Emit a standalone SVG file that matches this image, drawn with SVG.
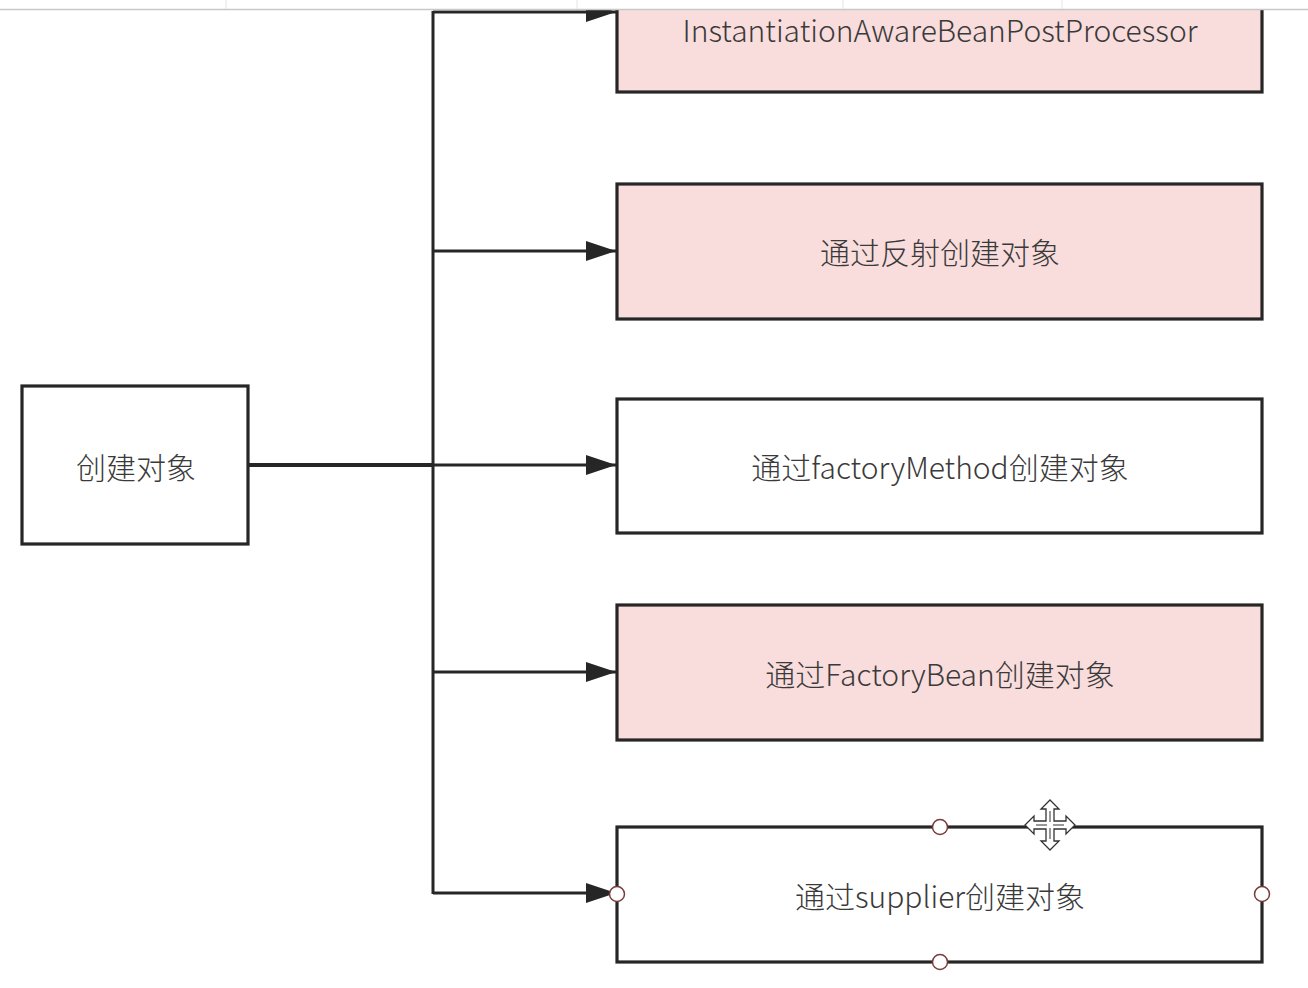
<svg xmlns="http://www.w3.org/2000/svg" width="1308" height="988" viewBox="0 0 1308 988">
  <style>
    .box { stroke: #262626; stroke-width: 3.2; }
    .pink { fill: #f9dcdc; }
    .white { fill: #ffffff; }
    .label { font-family: "Noto Sans CJK SC", "Noto Sans", sans-serif; font-size: 30px; font-weight: 300; fill: #3a3a3a; text-anchor: middle; dominant-baseline: central; }
    .conn { stroke: #262626; stroke-width: 3; fill: none; }
    .handle { fill: #ffffff; stroke: #7a3a3a; stroke-width: 1.5; }
    .sep { stroke: #e4e4e4; stroke-width: 1; }
  </style>
  <defs>
    <marker id="arrow" markerUnits="userSpaceOnUse" viewBox="0 0 30 20" refX="30" refY="10" markerWidth="30" markerHeight="20" orient="auto">
      <path d="M0,0 L30,10 L0,20 z" fill="#262626"/>
    </marker>
  </defs>
  <rect x="0" y="0" width="1308" height="988" fill="#ffffff"/>

  <g id="connectors">
    <line class="conn" x1="249" y1="465" x2="433" y2="465" style="stroke-width:4"/>
    <line class="conn" x1="433" y1="11" x2="433" y2="894"/>
    <line class="conn" x1="433" y1="12" x2="616" y2="12" marker-end="url(#arrow)"/>
    <line class="conn" x1="433" y1="251" x2="616" y2="251" marker-end="url(#arrow)"/>
    <line class="conn" x1="433" y1="465" x2="616" y2="465" marker-end="url(#arrow)"/>
    <line class="conn" x1="433" y1="672" x2="616" y2="672" marker-end="url(#arrow)"/>
    <line class="conn" x1="433" y1="893" x2="616" y2="893" marker-end="url(#arrow)"/>
  </g>

  <g id="node-create">
    <rect class="box white" x="22" y="386" width="226" height="158"/>
    <text class="label" x="136" y="466">创建对象</text>
  </g>

  <g id="node-iabpp">
    <rect class="box pink" x="617" y="-40" width="645" height="132"/>
    <text class="label" x="940" y="29">InstantiationAwareBeanPostProcessor</text>
  </g>

  <g id="node-reflect">
    <rect class="box pink" x="617" y="184" width="645" height="135"/>
    <text class="label" x="940" y="251">通过反射创建对象</text>
  </g>

  <g id="node-factorymethod">
    <rect class="box white" x="617" y="399" width="645" height="134"/>
    <text class="label" x="940" y="466">通过factoryMethod创建对象</text>
  </g>

  <g id="node-factorybean">
    <rect class="box pink" x="617" y="605" width="645" height="135"/>
    <text class="label" x="940" y="673">通过FactoryBean创建对象</text>
  </g>

  <g id="node-supplier">
    <rect class="box white" x="617" y="827" width="645" height="135"/>
    <text class="label" x="940" y="895">通过supplier创建对象</text>
    <circle class="handle" cx="940" cy="827" r="7.5"/>
    <circle class="handle" cx="617" cy="894" r="7.5"/>
    <circle class="handle" cx="1262" cy="894" r="7.5"/>
    <circle class="handle" cx="940" cy="962" r="7.5"/>
    <polygon points="1050,800 1059,809 1054,809 1054,821 1066,821 1066,816 1075,825 1066,834 1066,829 1054,829 1054,841 1059,841 1050,850 1041,841 1046,841 1046,829 1034,829 1034,834 1025,825 1034,816 1034,821 1046,821 1046,809 1041,809" fill="#ffffff" stroke="#333333" stroke-width="1.3" stroke-linejoin="miter"/>
    <path d="M1050,811 V822 M1050,828 V839 M1036,825 H1047 M1053,825 H1064" stroke="#333333" stroke-width="1" fill="none"/>
  </g>

  <g id="toolbar">
    <rect x="0" y="0" width="1308" height="9" fill="#ffffff"/>
    <line x1="0" y1="9.5" x2="1308" y2="9.5" stroke="#c8c8c8" stroke-width="1.5"/>
    <line class="sep" x1="226" y1="0" x2="226" y2="9"/>
    <line class="sep" x1="577" y1="0" x2="577" y2="9"/>
    <line class="sep" x1="843" y1="0" x2="843" y2="9"/>
    <line class="sep" x1="1062" y1="0" x2="1062" y2="9"/>
  </g>
</svg>
